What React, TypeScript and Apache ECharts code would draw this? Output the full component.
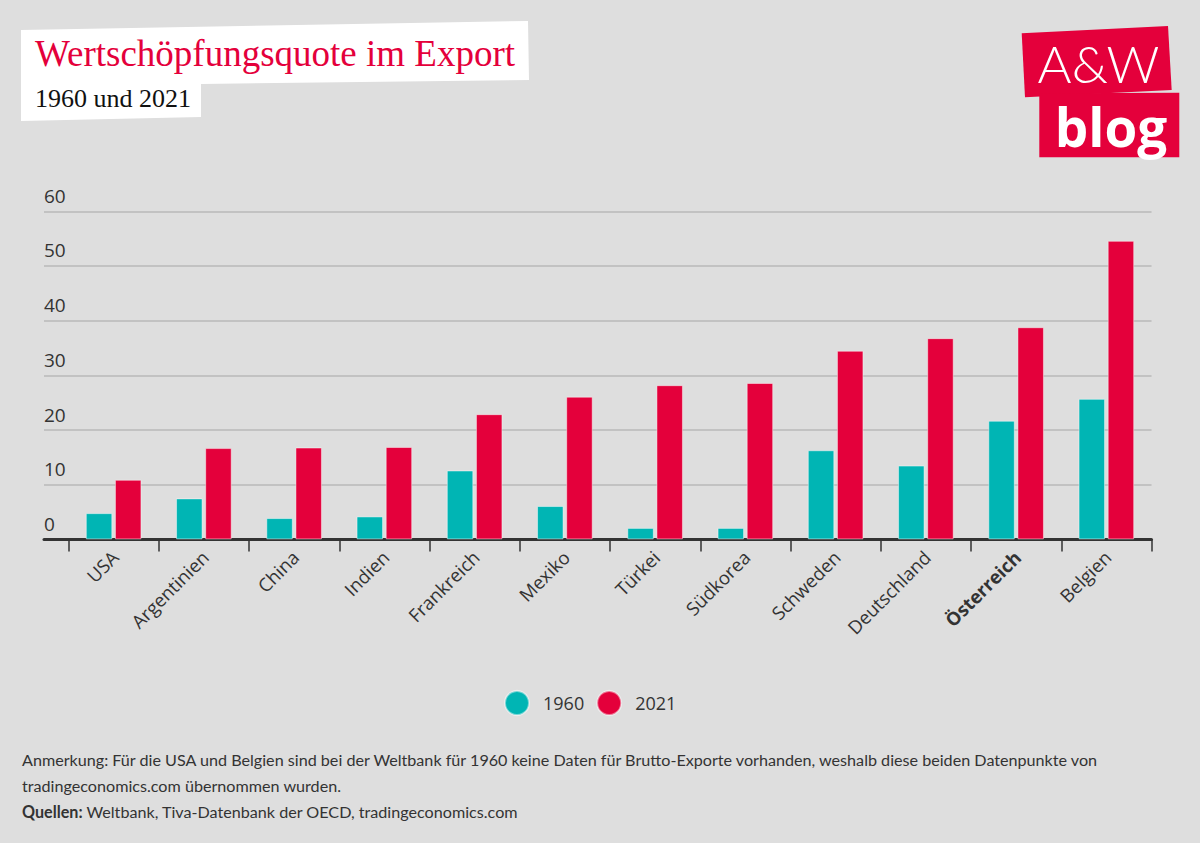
import React, { useEffect, useRef } from "react";
import * as echarts from "echarts";

const countries = ["USA", "Argentinien", "China", "Indien", "Frankreich", "Mexiko", "Türkei", "Südkorea", "Schweden", "Deutschland", "Österreich", "Belgien"];
const values1960 = [4.8, 7.5, 3.9, 4.2, 12.6, 6.1, 2.1, 2.1, 16.3, 13.5, 21.7, 25.7];
const values2021 = [10.9, 16.7, 16.8, 16.9, 22.9, 26.1, 28.2, 28.6, 34.5, 36.8, 38.8, 54.6];
const seriesNames = ["1960", "2021"];
const yMin = 0;
const yMax = 60;
const yInterval = 10;
const highlighted = "Österreich";

const title = "Wertschöpfungsquote im Export";
const subtitle = "1960 und 2021";
const note1 = "Anmerkung: Für die USA und Belgien sind bei der Weltbank für 1960 keine Daten für Brutto-Exporte vorhanden, weshalb diese beiden Datenpunkte von";
const note2 = "tradingeconomics.com übernommen wurden.";
const sourceLabel = "Quellen:";
const sources = " Weltbank, Tiva-Datenbank der OECD, tradingeconomics.com";

const TEAL = "#00b5b4";
const RED = "#e4003b";
const TXT = "#333333";

export default function App() {
  const ref = useRef<HTMLDivElement>(null);
  useEffect(() => {
    if (!ref.current) return;
    const chart = echarts.init(ref.current, null, { renderer: "svg" });
    const option: any = {
      animation: false,
      backgroundColor: "#dedede",
      textStyle: { fontFamily: "Open Sans" },
      grid: [
        { left: 68.5, top: 211.3, width: 1083, height: 328.1 },
        { left: 44, top: 211.3, width: 1107.5, height: 328.1 },
      ],
      xAxis: [
        {
          gridIndex: 0,
          type: "category",
          data: countries,
          axisLine: { show: false },
          axisTick: { show: true, length: 12, lineStyle: { color: TXT, width: 1.5 } },
          axisLabel: {
            rotate: 45,
            interval: 0,
            margin: 2,
            padding: [0, 8, 0, 0],
            align: "right",
            verticalAlign: "top",
            fontSize: 18.5,
            color: TXT,
            fontFamily: "Open Sans",
            formatter: (v: string) => (v === highlighted ? `{b|${v}}` : v),
            rich: { b: { fontWeight: "bold", fontSize: 18.5, color: TXT, fontFamily: "Open Sans" } },
          },
        },
        {
          gridIndex: 1,
          type: "value",
          min: 0,
          max: 1,
          axisLine: { show: true, onZero: false, lineStyle: { color: TXT, width: 3 } },
          axisTick: { show: false },
          axisLabel: { show: false },
          splitLine: { show: false },
        },
      ],
      yAxis: [
        { gridIndex: 0, type: "value", min: yMin, max: yMax, interval: yInterval, show: false },
        {
          gridIndex: 1,
          type: "value",
          min: yMin,
          max: yMax,
          interval: yInterval,
          axisLine: { show: false },
          axisTick: { show: false },
          splitLine: { show: true, lineStyle: { color: "#b8b8b8", width: 1.5 } },
          axisLabel: {
            inside: true,
            margin: 0,
            align: "left",
            verticalAlign: "bottom",
            padding: [0, 0, 6, 0],
            fontSize: 19,
            color: TXT,
            fontFamily: "Open Sans",
          },
        },
      ],
      legend: {
        left: 504,
        top: 690,
        padding: 0,
        icon: "circle",
        itemWidth: 24,
        itemHeight: 24,
        itemGap: 12,
        data: seriesNames,
        textStyle: { fontSize: 18, color: TXT, fontFamily: "Open Sans", padding: [0, 0, 0, 9] },
      },
      series: [
        {
          name: seriesNames[0],
          type: "bar",
          xAxisIndex: 0,
          yAxisIndex: 0,
          data: values1960,
          barWidth: 26.5,
          barGap: "10%",
          itemStyle: { color: TEAL, borderColor: "rgba(255,255,255,0.45)", borderWidth: 1 },
        },
        {
          name: seriesNames[1],
          type: "bar",
          xAxisIndex: 0,
          yAxisIndex: 0,
          data: values2021,
          barWidth: 26.5,
          itemStyle: { color: RED, borderColor: "rgba(255,255,255,0.45)", borderWidth: 1 },
        },
      ],
      graphic: [
        {
          type: "polygon",
          shape: { points: [[21, 30], [528, 21], [529, 80], [201, 84], [201, 117], [21, 121]] },
          style: { fill: "#ffffff" },
        },
        {
          type: "text",
          x: 35,
          y: 53,
          style: { text: title, fill: RED, font: "37px 'Liberation Serif'", verticalAlign: "middle", align: "left" },
        },
        {
          type: "text",
          x: 35,
          y: 98,
          style: { text: subtitle, fill: "#111", font: "26px 'Liberation Serif'", verticalAlign: "middle", align: "left" },
        },
        {
          type: "polygon",
          shape: { points: [[1021.7, 33.3], [1168, 26], [1171.7, 90], [1025, 97.3]] },
          style: { fill: RED },
        },
        {
          type: "polygon",
          shape: { points: [[1039.3, 93.3], [1179.3, 92.7], [1179.3, 157.3], [1039.3, 157.3]] },
          style: { fill: RED },
        },
        {
          type: "text",
          x: 1098.5,
          y: 63,
          style: { text: "A&W", fill: "#fff", font: "300 52px Lato", verticalAlign: "middle", align: "center" },
        },
        {
          type: "text",
          x: 1111,
          y: 126,
          style: { text: "blog", fill: "#fff", font: "bold 53px 'Open Sans'", verticalAlign: "middle", align: "center" },
        },
        {
          type: "text",
          x: 22,
          y: 759,
          style: { text: note1, fill: TXT, font: "16.15px Lato", verticalAlign: "middle", align: "left" },
        },
        {
          type: "text",
          x: 22,
          y: 785,
          style: { text: note2, fill: TXT, font: "16.15px Lato", verticalAlign: "middle", align: "left" },
        },
        {
          type: "text",
          x: 22,
          y: 811,
          style: {
            text: `{b|${sourceLabel}}${sources}`,
            fill: TXT,
            font: "16.15px Lato",
            verticalAlign: "middle",
            align: "left",
            rich: { b: { fontWeight: "bold", fontSize: 16.15, fontFamily: "Lato", fill: TXT } },
          },
        },
      ],
    };
    chart.setOption(option);
    return () => chart.dispose();
  }, []);
  return <div ref={ref} style={{ position: "fixed", left: 0, top: 0, width: 1200, height: 843 }} />;
}
